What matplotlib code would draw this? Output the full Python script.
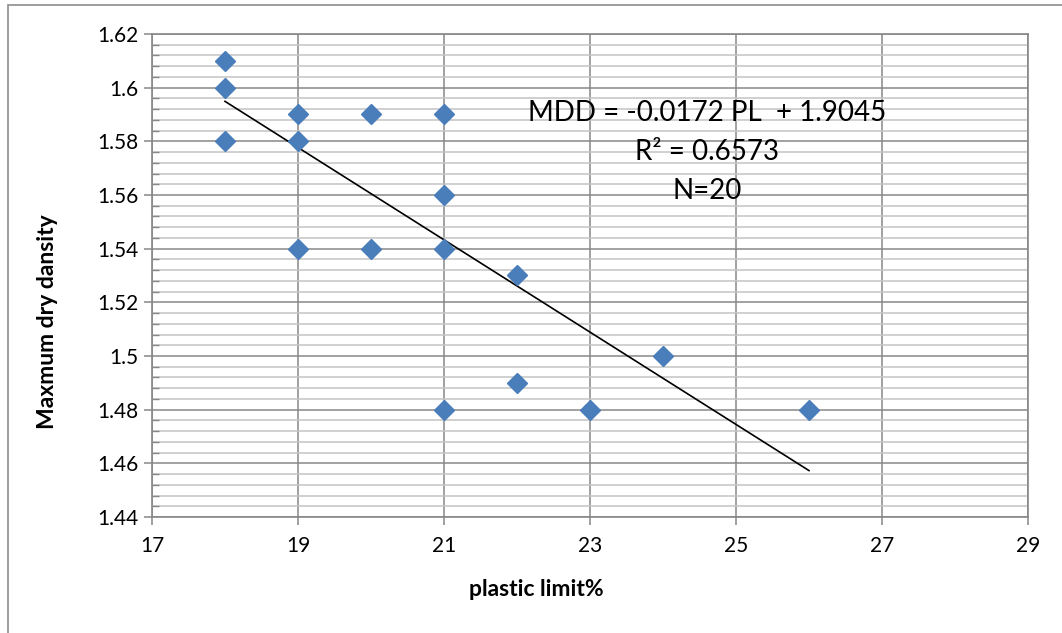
import matplotlib
matplotlib.use("Agg")
import matplotlib.pyplot as plt
from matplotlib.ticker import MultipleLocator
from matplotlib.patches import Rectangle
import numpy as np

plt.rcParams['font.family'] = ['Lato', 'DejaVu Sans']

pl = [18, 18, 18, 19, 19, 19, 20, 20, 21, 21, 21, 21, 22, 22, 23, 24, 26]
mdd = [1.61, 1.60, 1.58, 1.59, 1.58, 1.54, 1.59, 1.54, 1.59, 1.56, 1.54, 1.48,
       1.53, 1.49, 1.48, 1.50, 1.48]
slope = -0.0172
intercept = 1.9045
fit_x = [18, 26]
x_ticks = [17, 19, 21, 23, 25, 27, 29]
y_ticks = [1.44, 1.46, 1.48, 1.50, 1.52, 1.54, 1.56, 1.58, 1.60, 1.62]
y_labels = ["1.44", "1.46", "1.48", "1.5", "1.52", "1.54", "1.56", "1.58", "1.6", "1.62"]
eq_lines = ["MDD = -0.0172 PL  + 1.9045", "R² = 0.6573", "N=20"]

W, H = 1062, 633
fig = plt.figure(figsize=(W / 100, H / 100), dpi=100)
fig.patches.append(Rectangle((8 / W, -0.1), 1.2, 1 - 5 / H + 0.1, transform=fig.transFigure,
                             fill=False, edgecolor='#8c8c8c', linewidth=1.2))
ax = fig.add_axes([152 / W, 1 - 517 / H, (1028 - 152) / W, (517 - 34) / H])

ax.set_xlim(17, 29)
ax.set_ylim(1.44, 1.62)
ax.set_xticks(x_ticks)
ax.set_xticklabels([str(v) for v in x_ticks])
ax.set_yticks(y_ticks)
ax.set_yticklabels(y_labels)
ax.yaxis.set_minor_locator(MultipleLocator(0.004))

ax.grid(which='major', axis='both', color='#878787', linewidth=1.1)
ax.grid(which='minor', axis='y', color='#c4c4c4', linewidth=1.1)
ax.set_axisbelow(True)
for s in ax.spines.values():
    s.set_color('#878787')
    s.set_linewidth(1.2)

ax.tick_params(which='major', direction='out', length=6, width=1.1, color='#878787',
               labelsize=15)
ax.tick_params(which='minor', axis='y', direction='in', length=5, width=1, color='#878787')
ax.tick_params(axis='x', pad=8)
ax.tick_params(axis='y', pad=4)

fx = np.array(fit_x, dtype=float)
ax.plot(fx, slope * fx + intercept, color='black', linewidth=1.2, zorder=2)
ax.plot(pl, mdd, linestyle='none', marker='D', markersize=10.2, color='#4a7ebb', zorder=3)

for i, t in enumerate(eq_lines):
    fig.text(707 / W, 1 - (113 + 39 * i) / H, t, ha='center', va='center', fontsize=20)

fig.text(536 / W, 1 - 590 / H, "plastic limit%", ha='center', va='center',
         fontsize=16.5, fontweight='bold')
fig.text(48 / W, 1 - 322 / H, "Maxmum dry dansity", ha='center', va='center',
         rotation=90, fontsize=16.5, fontweight='bold')

fig.savefig("out.png", dpi=100)
